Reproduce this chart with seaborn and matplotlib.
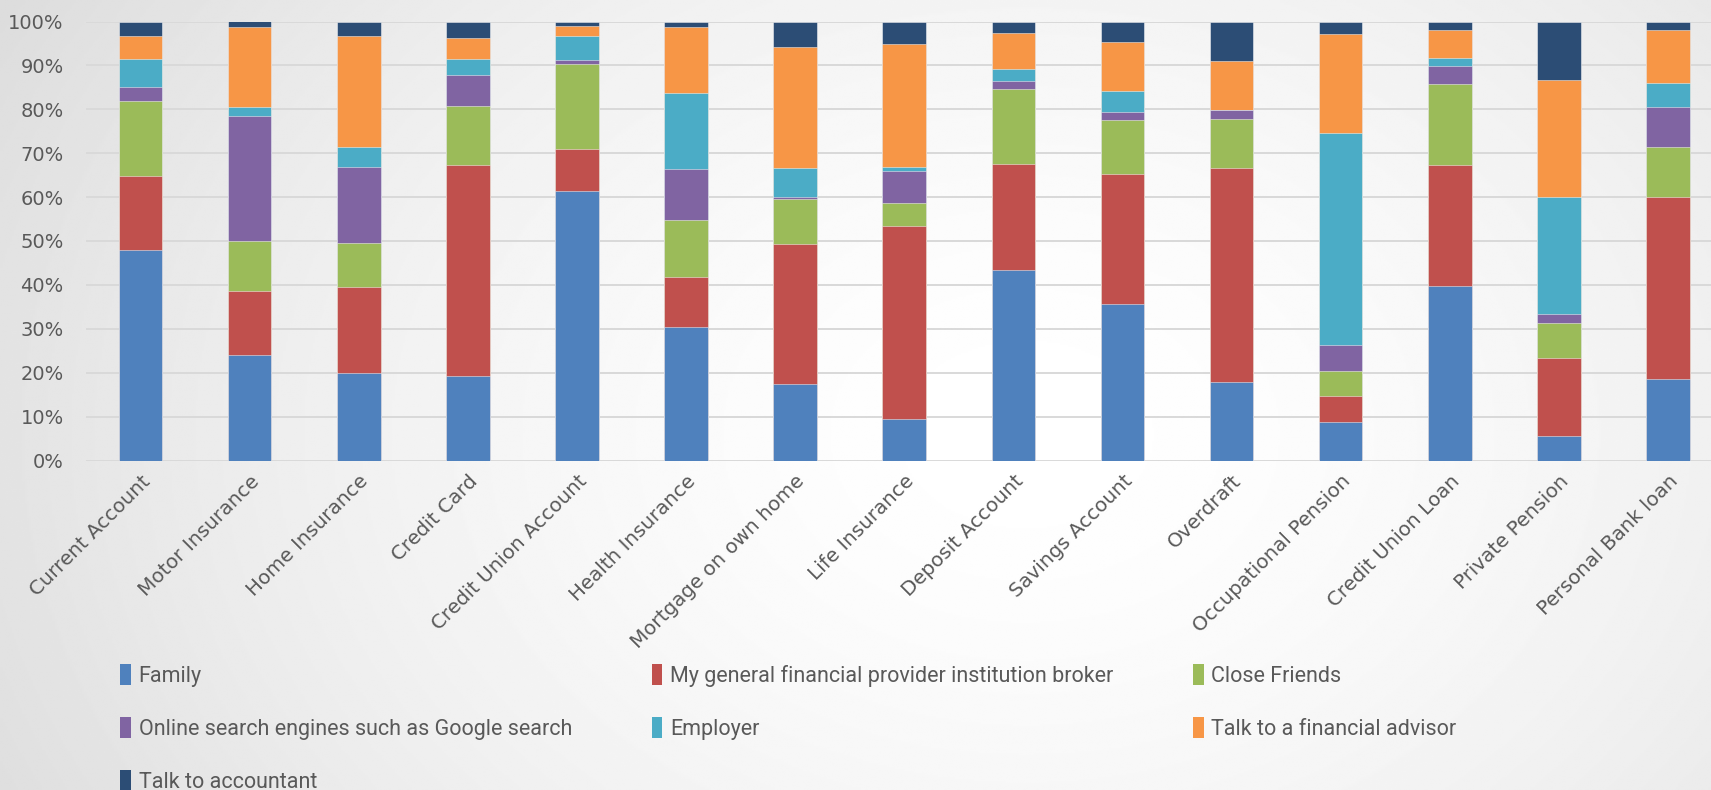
import numpy as np
import pandas as pd
import matplotlib
matplotlib.use("Agg")
import matplotlib.pyplot as plt
from matplotlib.patches import Patch
from matplotlib.ticker import PercentFormatter
import seaborn as sns

categories = [
    "Current Account", "Motor Insurance", "Home Insurance", "Credit Card",
    "Credit Union Account", "Health Insurance", "Mortgage on own home",
    "Life Insurance", "Deposit Account", "Savings Account", "Overdraft",
    "Occupational Pension", "Credit Union Loan", "Private Pension",
    "Personal Bank loan",
]

family     = [47.9, 24.0, 19.9, 19.3, 61.3, 30.3, 17.4,  9.4, 43.3, 35.6, 17.8,  8.7, 39.8,  5.5, 18.5]
broker     = [16.9, 14.7, 19.7, 48.0,  9.6, 11.6, 31.9, 44.0, 24.3, 29.7, 48.8,  5.9, 27.5, 17.9, 41.5]
friends    = [17.1, 11.3,  9.9, 13.4, 19.4, 12.8, 10.2,  5.2, 17.1, 12.3, 11.1,  5.8, 18.4,  7.9, 11.3]
online     = [ 3.1, 28.4, 17.4,  7.1,  1.0, 11.6,  0.6,  7.4,  1.7,  1.8,  2.2,  5.8,  4.1,  2.1,  9.2]
employer   = [ 6.4,  2.2,  4.5,  3.6,  5.4, 17.3,  6.5,  0.9,  2.7,  4.7,  0.0, 48.5,  1.9, 26.6,  5.5]
advisor    = [ 5.3, 18.1, 25.3,  4.9,  2.2, 15.1, 27.5, 28.0,  8.2, 11.2, 11.2, 22.4,  6.3, 26.7, 12.0]
accountant = [ 3.3,  1.3,  3.3,  3.7,  1.1,  1.3,  5.9,  5.1,  2.7,  4.7,  8.9,  2.9,  2.0, 13.3,  2.0]

series_names = [
    "Family",
    "My general financial provider institution broker",
    "Close Friends",
    "Online search engines such as Google search",
    "Employer",
    "Talk to a financial advisor",
    "Talk to accountant",
]
series_values = [family, broker, friends, online, employer, advisor, accountant]
series_colors = ["#4F81BD", "#C0504D", "#9BBB59", "#8064A2",
                 "#4BACC6", "#F79646", "#2C4D75"]

# long-form table with cumulative heights for layered (stacked) bars
df = pd.DataFrame(np.array(series_values).T, columns=series_names)
df.insert(0, "category", categories)
cum = df[series_names].cumsum(axis=1)
cum.insert(0, "category", categories)

W, H, DPI = 1711, 790, 100
fig = plt.figure(figsize=(W / DPI, H / DPI), dpi=DPI)

# soft radial backdrop
bg = fig.add_axes([0, 0, 1, 1], zorder=-10)
yy, xx = np.mgrid[0:1:400j, 0:1:800j]
d = np.sqrt(((xx - 0.60) / 0.62) ** 2 + ((yy - 0.55) / 1.0) ** 2)
shade = 1.0 - 0.115 * np.clip(d, 0, 1.3) ** 1.6
bg.imshow(shade, cmap="gray", vmin=0, vmax=1, aspect="auto",
          extent=[0, 1, 0, 1], interpolation="bilinear")
bg.set_axis_off()

left = 86 / W
bottom = (H - 460.5) / H
height = (460.5 - 21.5) / H
width = 15 * 109.1 / W
ax = fig.add_axes([left, bottom, width, height])
ax.set_facecolor("none")

# draw tallest cumulative layer first so lower layers sit on top
for name, color in reversed(list(zip(series_names, series_colors))):
    sns.barplot(data=cum, x="category", y=name, order=categories,
                color=color, width=0.4, saturation=1, ax=ax,
                edgecolor=(1, 1, 1, 0.55), linewidth=0.6, zorder=3)

ax.set_xlim(-0.5, 14.5)
ax.set_ylim(0, 100)
ax.set_yticks(np.arange(0, 101, 10))
ax.yaxis.set_major_formatter(PercentFormatter(decimals=0))
ax.grid(axis="y", color="#d9d9d9", linewidth=1.4, zorder=0)
ax.set_axisbelow(True)
for s in ax.spines.values():
    s.set_visible(False)
ax.set_xlabel("")
ax.set_ylabel("")
ax.tick_params(axis="both", length=0, colors="#595959")
ax.tick_params(axis="y", labelsize=14, pad=16)
ax.set_xticks(range(len(categories)))
ax.set_xticklabels(categories, rotation=45, ha="right",
                   rotation_mode="anchor", fontsize=14.3, color="#595959")
ax.tick_params(axis="x", pad=8)

handles = [Patch(facecolor=c, edgecolor="none") for c in series_colors]
order = [0, 3, 6, 1, 4, 2, 5]
leg = fig.legend([handles[i] for i in order], [series_names[i] for i in order],
                 ncol=3, loc="upper left", bbox_to_anchor=(101 / W, 1 - 645 / H),
                 frameon=False, handlelength=0.5, handleheight=1.1,
                 handletextpad=0.35, labelspacing=1.4, columnspacing=3.7,
                 prop={"family": ["Roboto", "DejaVu Sans"], "size": 15.5})
for t in leg.get_texts():
    t.set_color("#595959")

fig.savefig("out.png", dpi=DPI)
